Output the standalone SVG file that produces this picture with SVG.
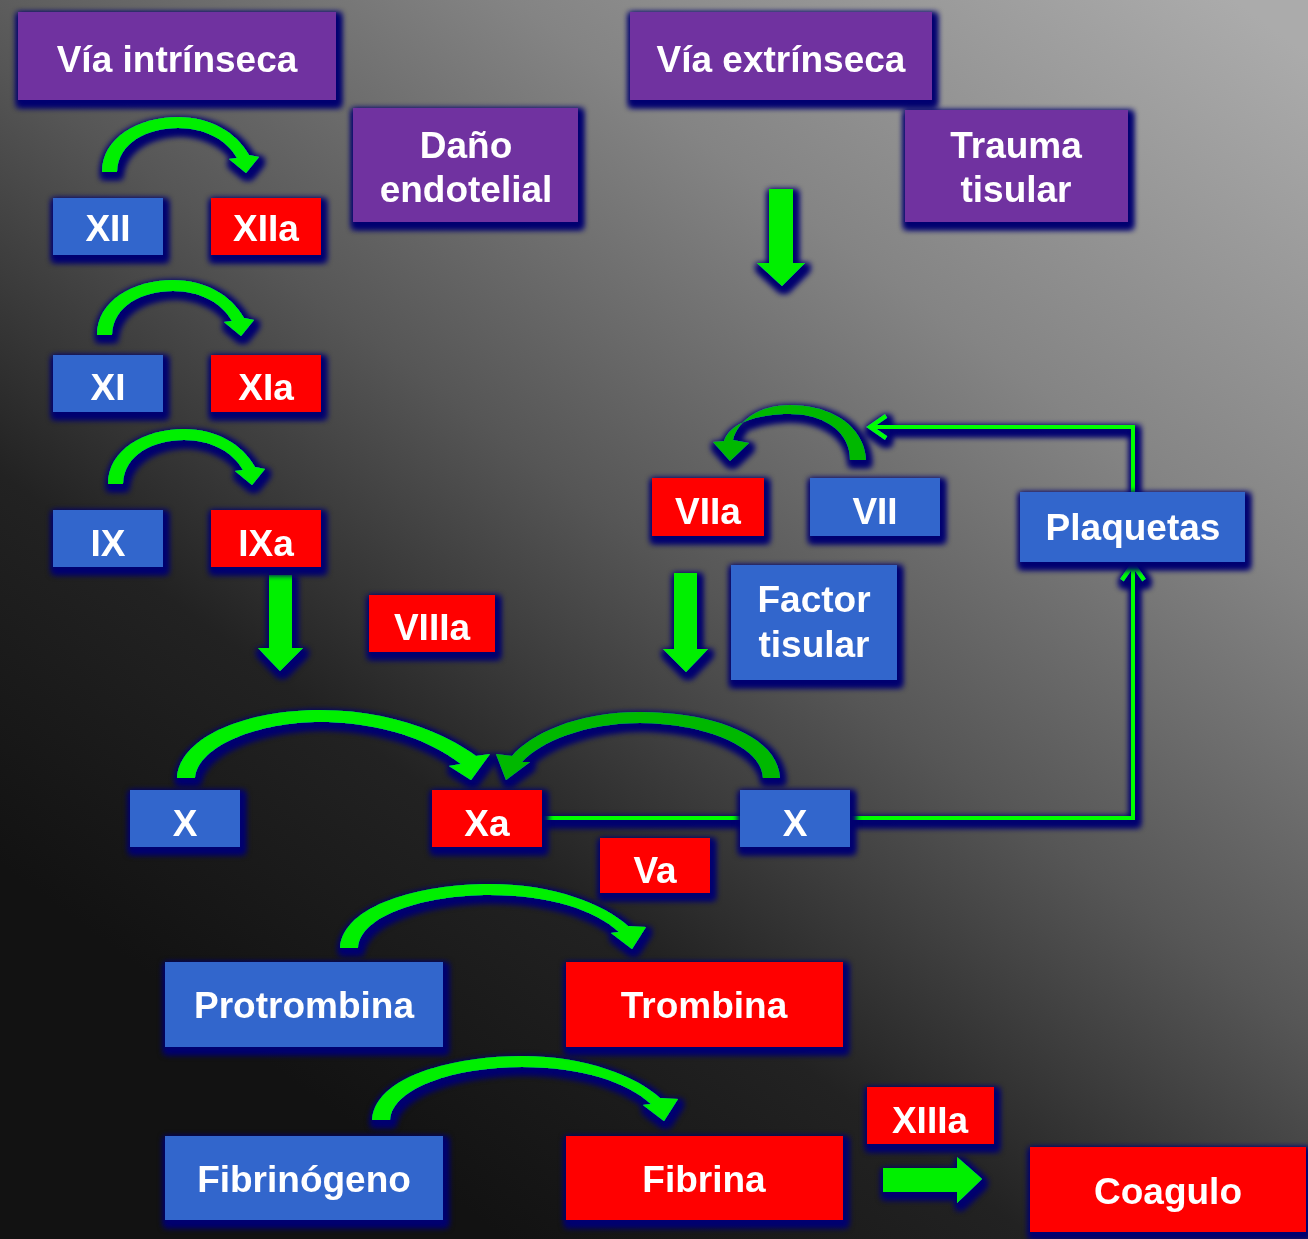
<svg xmlns="http://www.w3.org/2000/svg" xmlns:xlink="http://www.w3.org/1999/xlink" width="1308" height="1239" viewBox="0 0 1308 1239">
<defs>
<linearGradient id="bg" gradientUnits="userSpaceOnUse" x1="1100" y1="-100" x2="250" y2="1050">
<stop offset="0" stop-color="#ababab"/>
<stop offset="0.3" stop-color="#848484"/>
<stop offset="0.55" stop-color="#565656"/>
<stop offset="0.78" stop-color="#222222"/>
<stop offset="1" stop-color="#121212"/>
</linearGradient>
<filter id="glow" filterUnits="userSpaceOnUse" x="0" y="0" width="1308" height="1239">
<feMorphology in="SourceAlpha" operator="dilate" radius="3" result="d"/>
<feGaussianBlur in="d" stdDeviation="3" result="b"/>
<feOffset in="b" dx="2" dy="4" result="o"/>
<feFlood flood-color="#000070"/>
<feComposite in2="o" operator="in" result="s"/>
<feMerge><feMergeNode in="s"/><feMergeNode in="s"/><feMergeNode in="SourceGraphic"/></feMerge>
</filter>
<path id="arcS" d="M102,172 C102,138 138,117 178,117 C210,117 236,132 249,155 L259,157 L246,173 L229,159 L237,158 C227,140 205,128 178,128 C148,128 118,142 117,172 Z"/>
<path id="arcL" d="M340,948 C343,905 420,884 490,884 C555,884 605,905 628,926 L646,927 L632,949 L611,933 L619,932 C595,910 550,895 490,895 C425,895 360,915 358,948 Z"/>
</defs>
<style>
.pu{fill:#7030a0}
.bl{fill:#3366cc}
.rd{fill:#ff0000}
text{font-family:"Liberation Sans",Arial,sans-serif;font-weight:bold;font-size:37px;fill:#ffffff;text-anchor:middle}
.ln{fill:none;stroke:#00ff00;stroke-width:4}
.ga{fill:#00f000}
.gd{fill:#00b800}
</style>
<rect width="1308" height="1239" fill="url(#bg)"/>

<g id="connectors" filter="url(#glow)">
<use xlink:href="#arcS" class="ga"/>
<use xlink:href="#arcS" class="ga" transform="translate(-5,163)"/>
<use xlink:href="#arcS" class="ga" transform="translate(6,312)"/>
<use xlink:href="#arcL" class="ga"/>
<use xlink:href="#arcL" class="ga" transform="translate(32,172)"/>
<path class="ga" d="M177,778 C180,735 250,710 320,710 C385,710 440,730 476,756 L490,754 L471,780 L449,766 L461,764 C430,740 380,722 320,722 C260,722 198,745 195,778 Z"/>
<path class="gd" d="M780,778 C778,735 710,712 640,712 C575,712 530,735 512,756 L496,754 L506,780 L530,762 L522,762 C540,742 585,723 640,723 C700,723 762,745 763,778 Z"/>
<path class="gd" d="M866,460 C864,425 830,405 790,405 C760,405 738,420 733,440 L749,443 L730,461 L713,442 L724,441 C730,423 757,414 790,414 C822,414 850,430 850,460 Z"/>
<polygon class="ga" points="769,189 793,189 793,263 805,263 782,286 757,263 769,263"/>
<polygon class="ga" points="269,575 292,575 292,648 303,648 280,671 258,648 269,648"/>
<polygon class="ga" points="674,573 697,573 697,649 708,649 686,672 663,649 674,649"/>
<polygon class="ga" points="883,1168 957,1168 957,1157 982,1179 957,1203 957,1192 883,1192"/>
<polyline class="ln" points="1133,492 1133,427 870,427"/>
<polyline class="ln" points="886,416 870,427 886,438"/>
<polyline class="ln" points="850,818 1133,818 1133,564"/>
<polyline class="ln" points="1122,580 1133,564 1144,580"/>
<line class="ln" x1="542" y1="818" x2="740" y2="818"/>
</g>

<g filter="url(#glow)">
<g id="via-intrinseca"><rect class="pu" x="18" y="12" width="318" height="88"/><text x="177" y="72">Vía intrínseca</text></g>
<g id="via-extrinseca"><rect class="pu" x="630" y="12" width="302" height="88"/><text x="781" y="72">Vía extrínseca</text></g>
<g id="dano-endotelial"><rect class="pu" x="353" y="108" width="225" height="114"/><text x="466" y="158">Daño</text><text x="466" y="202">endotelial</text></g>
<g id="trauma-tisular"><rect class="pu" x="905" y="110" width="223" height="112"/><text x="1016" y="158">Trauma</text><text x="1016" y="202">tisular</text></g>
<g id="XII"><rect class="bl" x="53" y="198" width="110" height="57"/><text x="108" y="241">XII</text></g>
<g id="XIIa"><rect class="rd" x="211" y="198" width="110" height="57"/><text x="266" y="241">XIIa</text></g>
<g id="XI"><rect class="bl" x="53" y="355" width="110" height="57"/><text x="108" y="400">XI</text></g>
<g id="XIa"><rect class="rd" x="211" y="355" width="110" height="57"/><text x="266" y="400">XIa</text></g>
<g id="IX"><rect class="bl" x="53" y="510" width="110" height="57"/><text x="108" y="556">IX</text></g>
<g id="IXa"><rect class="rd" x="211" y="510" width="110" height="57"/><text x="266" y="556">IXa</text></g>
<g id="VIIIa"><rect class="rd" x="369" y="595" width="126" height="57"/><text x="432" y="640">VIIIa</text></g>
<g id="VIIa"><rect class="rd" x="652" y="478" width="112" height="58"/><text x="708" y="524">VIIa</text></g>
<g id="VII"><rect class="bl" x="810" y="478" width="130" height="58"/><text x="875" y="524">VII</text></g>
<g id="plaquetas"><rect class="bl" x="1020" y="492" width="225" height="70"/><text x="1133" y="540">Plaquetas</text></g>
<g id="factor-tisular"><rect class="bl" x="731" y="565" width="166" height="115"/><text x="814" y="612">Factor</text><text x="814" y="657">tisular</text></g>
<g id="X-left"><rect class="bl" x="130" y="790" width="110" height="57"/><text x="185" y="836">X</text></g>
<g id="Xa"><rect class="rd" x="432" y="790" width="110" height="57"/><text x="487" y="836">Xa</text></g>
<g id="X-right"><rect class="bl" x="740" y="790" width="110" height="57"/><text x="795" y="836">X</text></g>
<g id="Va"><rect class="rd" x="600" y="838" width="110" height="55"/><text x="655" y="883">Va</text></g>
<g id="protrombina"><rect class="bl" x="165" y="962" width="278" height="85"/><text x="304" y="1018">Protrombina</text></g>
<g id="trombina"><rect class="rd" x="566" y="962" width="277" height="85"/><text x="704" y="1018">Trombina</text></g>
<g id="fibrinogeno"><rect class="bl" x="165" y="1136" width="278" height="84"/><text x="304" y="1192">Fibrinógeno</text></g>
<g id="fibrina"><rect class="rd" x="566" y="1136" width="277" height="84"/><text x="704" y="1192">Fibrina</text></g>
<g id="XIIIa"><rect class="rd" x="867" y="1087" width="127" height="57"/><text x="930" y="1133">XIIIa</text></g>
<g id="coagulo"><rect class="rd" x="1030" y="1147" width="276" height="85"/><text x="1168" y="1204">Coagulo</text></g>
</g>
</svg>
